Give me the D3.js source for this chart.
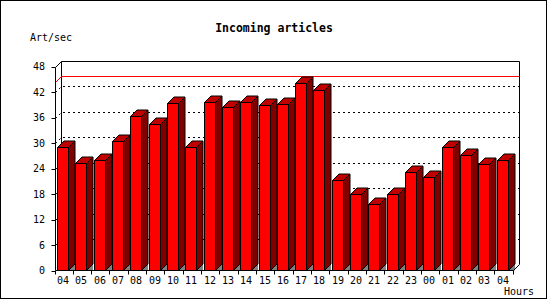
<!DOCTYPE html>
<html>
  <head>
    <meta charset="utf-8">
    <title>Incoming articles</title>
    <style>
      body{ margin: 0; background: white; }
      svg{ display: block; }
      text{ font-family: 'DejaVu Sans Mono', monospace; fill: black; }
    </style>
  </head>
  <body>
    <div id='chart'></div>
    <script src="https://d3js.org/d3.v7.min.js"></script>
    <script type="text/javascript">

      const hours = ['04','05','06','07','08','09','10','11','12','13','14','15','16',
                     '17','18','19','20','21','22','23','00','01','02','03','04'];
      const articles = [29.0, 25.4, 26.0, 30.4, 36.3, 34.6, 39.4, 29.2, 39.6, 38.4, 39.8, 38.9, 39.1,
                        44.1, 42.4, 21.2, 17.9, 15.6, 17.9, 23.3, 22.1, 29.0, 27.1, 25.2, 26.1];
      const yTicks = [0, 6, 12, 18, 24, 30, 36, 42, 48];
      const limit = 44.5;

      const w = 550, h = 300;
      const d = 6;          // 3d depth of the frame
      const bd = 6.5;       // 3d depth of the bars
      const pLeft = 55.5, pRight = 513.5, pBottom = 270.5, pTop = 66.7;

      const svg = d3.select('#chart').append('svg').attr('width', w).attr('height', h);

      // outer border
      svg.append('rect').attr('x', 0.5).attr('y', 0.5).attr('width', 546).attr('height', 298)
          .attr('fill', 'white').attr('stroke', 'black');

      const x = d3.scaleBand().domain(d3.range(hours.length)).range([pLeft, pRight]).padding(0);
      const y = d3.scaleLinear().domain([0, 48]).range([pBottom, pTop]);
      const py = v => Math.round(y(v)) + 0.5;   // pixel aligned y for lines

      // back frame
      const frame = svg.append('g').attr('fill', 'none').attr('stroke', 'black');
      frame.append('path').attr('d', 'M' + (pLeft + d) + ',' + (py(48) - d) + 'H' + (pRight + d) + 'V' + (pBottom - d));
      frame.append('path').attr('d', 'M' + (pLeft + d) + ',' + (py(48) - d) + 'V' + (pBottom - d));

      // grid lines
      svg.append('g').selectAll('path').data(yTicks.filter(v => v > 0 && v < 48)).enter().append('path')
          .attr('d', v => 'M' + pLeft + ',' + py(v) + 'L' + (pLeft + d) + ',' + (py(v) - d) + 'H' + (pRight + d))
          .attr('fill', 'none').attr('stroke', 'black').attr('stroke-dasharray', '2,3');

      // limit line
      svg.append('path')
          .attr('d', 'M' + pLeft + ',' + py(limit) + 'L' + (pLeft + d) + ',' + (py(limit) - d) + 'H' + (pRight + d))
          .attr('fill', 'none').attr('stroke', 'red');

      // bars
      const bars = svg.append('g').attr('stroke', 'black').attr('stroke-linejoin', 'round');
      articles.forEach(function(v, i){
        const x0 = Math.round(x(i) + 1.5) + 0.5, x1 = x0 + 11, yt = py(v);
        const g = bars.append('g');
        g.append('polygon').attr('fill', '#808080').attr('stroke', 'none')
            .attr('points', [[x1, pBottom], [x1 + bd, pBottom - bd], [x1 + bd, pBottom]].join(' '));
        g.append('polygon').attr('fill', '#800000')
            .attr('points', [[x1, yt], [x1 + bd, yt - bd], [x1 + bd, pBottom - bd], [x1, pBottom]].join(' '));
        g.append('polygon').attr('fill', '#c00000')
            .attr('points', [[x0, yt], [x0 + bd, yt - bd], [x1 + bd, yt - bd], [x1, yt]].join(' '));
        g.append('rect').attr('fill', 'red').attr('x', x0).attr('y', yt).attr('width', 11).attr('height', pBottom - yt);
      });

      // front axes
      const ax = svg.append('g').attr('fill', 'none').attr('stroke', 'black');
      ax.append('path').attr('d', 'M' + pLeft + ',' + py(48) + 'V' + pBottom + 'H' + pRight);
      ax.append('path').attr('d', 'M' + pLeft + ',' + py(48) + 'L' + (pLeft + d) + ',' + (py(48) - d));
      ax.append('path').attr('d', 'M' + pRight + ',' + pBottom + 'L' + (pRight + d) + ',' + (pBottom - d));
      ax.selectAll('.yt').data(yTicks).enter().append('path').attr('class', 'yt')
          .attr('d', v => 'M' + (pLeft - 4) + ',' + py(v) + 'H' + pLeft);
      ax.selectAll('.xt').data(d3.range(hours.length + 1)).enter().append('path').attr('class', 'xt')
          .attr('d', i => 'M' + (Math.round(pLeft + i * x.step()) - 0.5) + ',' + pBottom + 'V' + (pBottom + 4));

      svg.selectAll('.ylab').data(yTicks).enter().append('text').attr('class', 'ylab')
          .attr('x', 45).attr('y', v => y(v)).attr('dy', '0.35em').attr('text-anchor', 'end')
          .style('font-size', '10px').text(v => v);

      svg.selectAll('.xlab').data(hours).enter().append('text').attr('class', 'xlab')
          .attr('x', (t, i) => Math.round(x(i) + 1.5) + 6).attr('y', 280).attr('dy', '0.35em').attr('text-anchor', 'middle')
          .style('font-size', '10px').text(t => t);

      svg.append('text').text('Incoming articles').attr('x', 274).attr('y', 27.5).attr('dy', '0.35em')
          .attr('text-anchor', 'middle').style('font-size', '11.5px').style('font-weight', 'bold');
      svg.append('text').text('Art/sec').attr('x', 30).attr('y', 37.5).attr('dy', '0.35em')
          .style('font-size', '10px');
      svg.append('text').text('Hours').attr('x', 534).attr('y', 291.5).attr('dy', '0.35em')
          .attr('text-anchor', 'end').style('font-size', '10px');
    </script>
  </body>
</html>
